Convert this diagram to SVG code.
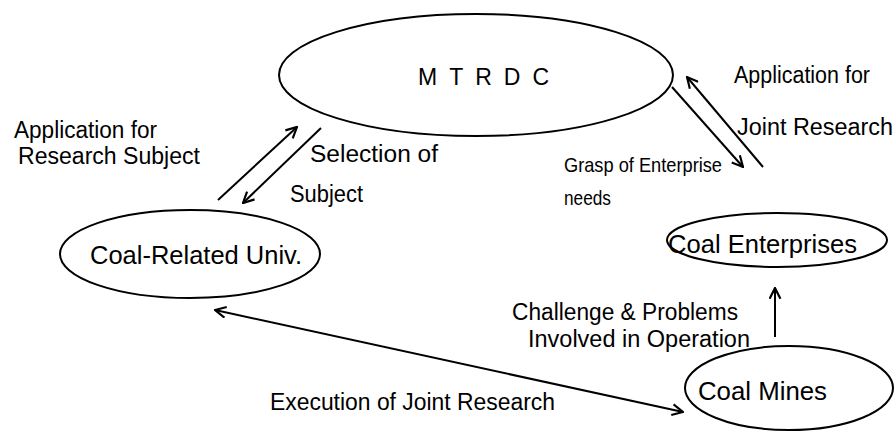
<svg xmlns="http://www.w3.org/2000/svg" width="894" height="436" viewBox="0 0 894 436">
<style>
.node{fill:none;stroke:#000;stroke-width:2}
.lbl{font-family:"Liberation Sans",Arial,sans-serif;font-size:23px;fill:#000}
.sm{font-size:21px}
.nlbl{font-family:"Liberation Sans",Arial,sans-serif;font-size:26px;fill:#000}
.conn{fill:none;stroke:#000;stroke-width:2}
</style>
<defs>
<marker id="ah" viewBox="0 0 12 12" refX="11" refY="6" markerWidth="13" markerHeight="13" markerUnits="userSpaceOnUse" orient="auto-start-reverse">
<path d="M1,1 L11,6 L1,11" fill="none" stroke="#000" stroke-width="2"/>
</marker>
</defs>
<rect width="894" height="436" fill="#fff"/>
<g id="mtrdc">
<ellipse class="node" cx="476" cy="75" rx="197" ry="61"/>
<text class="nlbl" x="418" y="85" style="font-size:23px;letter-spacing:12px">MTRDC</text>
</g>
<g id="univ">
<ellipse class="node" cx="190" cy="254" rx="130" ry="44"/>
<text class="nlbl" x="90" y="264" textLength="212" lengthAdjust="spacingAndGlyphs">Coal-Related Univ.</text>
</g>
<g id="enterprises">
<ellipse class="node" cx="777" cy="240" rx="110" ry="27"/>
<text class="nlbl" x="668" y="253" textLength="189" lengthAdjust="spacingAndGlyphs">Coal Enterprises</text>
</g>
<g id="mines">
<ellipse class="node" cx="789" cy="388" rx="104" ry="42"/>
<text class="nlbl" x="698" y="400" textLength="129" lengthAdjust="spacingAndGlyphs">Coal Mines</text>
</g>
<g id="connectors">
<line class="conn" x1="218" y1="200" x2="297" y2="127" marker-end="url(#ah)"/>
<line class="conn" x1="321" y1="128" x2="243" y2="203" marker-end="url(#ah)"/>
<line class="conn" x1="672" y1="87" x2="743" y2="167" marker-end="url(#ah)"/>
<line class="conn" x1="763" y1="167" x2="687" y2="77" marker-end="url(#ah)"/>
<line class="conn" x1="775" y1="337" x2="775" y2="288" marker-end="url(#ah)"/>
<line class="conn" x1="215" y1="310" x2="683" y2="412" marker-start="url(#ah)" marker-end="url(#ah)"/>
</g>
<g id="labels">
<text class="lbl" x="14" y="138" textLength="143" lengthAdjust="spacingAndGlyphs">Application for</text>
<text class="lbl" x="18" y="164" textLength="182" lengthAdjust="spacingAndGlyphs">Research Subject</text>
<text class="lbl" x="310" y="162" textLength="128" lengthAdjust="spacingAndGlyphs">Selection of</text>
<text class="lbl" x="290" y="202" textLength="73" lengthAdjust="spacingAndGlyphs">Subject</text>
<text class="lbl sm" x="564" y="172" textLength="158" lengthAdjust="spacingAndGlyphs">Grasp of Enterprise</text>
<text class="lbl sm" x="564" y="205" textLength="47" lengthAdjust="spacingAndGlyphs">needs</text>
<text class="lbl" x="734" y="83" textLength="136" lengthAdjust="spacingAndGlyphs">Application for</text>
<text class="lbl" x="737" y="135" textLength="156" lengthAdjust="spacingAndGlyphs">Joint Research</text>
<text class="lbl" x="512" y="320" textLength="226" lengthAdjust="spacingAndGlyphs">Challenge &amp; Problems</text>
<text class="lbl" x="528" y="347" textLength="222" lengthAdjust="spacingAndGlyphs">Involved in Operation</text>
<text class="lbl" x="270" y="410" textLength="285" lengthAdjust="spacingAndGlyphs">Execution of Joint Research</text>
</g>
</svg>
